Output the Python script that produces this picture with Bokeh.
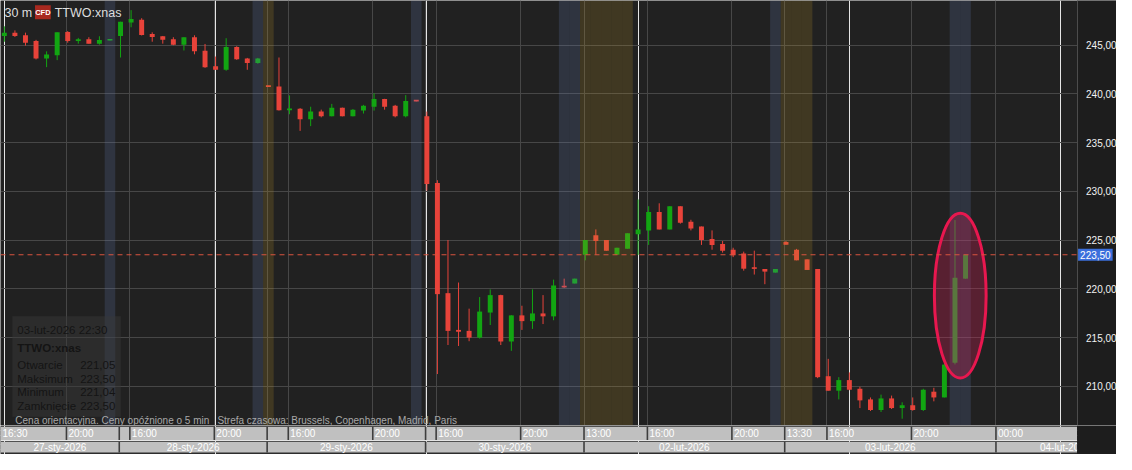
import numpy as np
from bokeh.plotting import figure
from bokeh.layouts import column
from bokeh.models import (Range1d, FixedTicker, Grid, CustomJSTickFormatter, LinearAxis,
                          Label, BoxAnnotation)
from bokeh.core.properties import value
from bokeh.embed import file_html
from bokeh.resources import INLINE

# ---------------- data ----------------
symbol = "TTWO:xnas"
interval = "30 m"
last_time = "03-lut-2026 22:30"

opens = [245.95, 246.29, 246.02, 245.43, 243.64, 243.97, 246.35, 245.43, 245.62, 245.16,
         245.48, 245.95, 247.34, 247.61, 246.15, 245.92, 245.62, 245.06, 245.82, 244.44,
         242.85, 242.48, 244.83, 243.64, 243.18, 240.76, 240.77, 238.32, 238.49, 237.40,
         238.19, 237.70, 238.59, 237.70, 238.29, 238.69, 239.48, 238.79, 237.70, 239.27,
         237.70, 230.86, 219.56, 215.79, 215.69, 215.00, 217.57, 219.36, 214.60, 217.28,
         216.69, 217.48, 217.18, 220.20, 220.55, 223.49, 225.51, 225.01, 223.49, 224.12,
         225.60, 226.00, 227.88, 226.10, 228.48, 226.89, 226.40, 225.11, 224.61, 224.02,
         223.62, 222.10, 222.04, 221.67, 224.81, 224.02, 223.03, 222.04, 211.04, 209.55,
         210.64, 209.75, 208.66, 207.57, 208.76, 207.77, 208.06, 207.57, 209.45, 208.86,
         212.42, 221.05]
highs = [246.94, 246.52, 246.29, 245.55, 244.37, 246.32, 246.45, 245.75, 245.82, 245.92,
         245.52, 247.41, 248.60, 247.77, 246.32, 245.95, 245.82, 245.82, 246.02, 245.13,
         243.84, 245.72, 244.90, 243.70, 243.70, 240.76, 243.74, 239.85, 238.55, 238.69,
         238.39, 238.98, 238.60, 238.45, 238.88, 240.07, 239.50, 238.88, 239.88, 239.27,
         238.19, 231.15, 225.01, 220.65, 217.97, 219.16, 219.95, 219.40, 217.30, 218.27,
         219.95, 219.36, 220.95, 221.05, 221.05, 225.01, 226.10, 225.01, 224.22, 225.70,
         229.17, 228.48, 228.78, 228.48, 228.48, 227.09, 226.40, 226.00, 224.91, 224.22,
         223.82, 223.92, 222.04, 222.04, 224.91, 224.10, 223.03, 222.04, 212.82, 210.94,
         211.43, 209.95, 208.86, 209.15, 209.05, 208.36, 208.86, 209.75, 209.85, 212.42,
         227.06, 223.50]
lows = [245.36, 245.85, 244.96, 243.54, 242.75, 243.47, 245.26, 245.16, 245.16, 245.06,
        245.48, 243.74, 246.84, 246.00, 245.36, 245.16, 245.00, 244.46, 244.07, 242.68,
        242.48, 242.38, 243.50, 242.48, 243.10, 240.72, 238.30, 237.92, 236.21, 236.70,
        237.60, 237.70, 237.70, 237.70, 237.99, 238.29, 238.39, 237.60, 237.60, 239.23,
        230.09, 211.26, 214.24, 214.14, 214.63, 214.90, 216.29, 214.24, 213.64, 215.79,
        215.89, 216.39, 216.78, 220.10, 220.55, 222.93, 223.49, 223.92, 223.49, 224.12,
        223.49, 224.51, 226.10, 226.10, 226.69, 226.00, 224.51, 224.02, 223.72, 223.26,
        221.87, 221.47, 220.48, 221.67, 224.54, 222.93, 221.94, 210.84, 209.55, 208.66,
        209.60, 207.77, 207.47, 207.37, 207.67, 206.68, 207.50, 207.47, 208.46, 208.86,
        212.25, 221.04]
closes = [246.29, 245.95, 245.26, 243.64, 244.04, 246.32, 245.43, 245.62, 245.16, 245.53,
          245.52, 247.41, 247.68, 246.05, 245.85, 245.55, 245.06, 245.82, 244.37, 242.75,
          242.48, 244.83, 243.57, 243.18, 243.64, 240.72, 238.32, 238.52, 237.40, 238.19,
          237.70, 238.59, 237.70, 238.39, 238.79, 239.48, 238.69, 237.70, 239.28, 239.23,
          230.76, 219.46, 215.69, 215.60, 215.00, 217.67, 219.36, 214.60, 217.28, 216.69,
          217.48, 217.18, 220.35, 220.15, 221.05, 225.01, 224.91, 223.92, 224.22, 225.70,
          226.10, 227.88, 226.10, 228.48, 226.79, 226.20, 225.01, 224.51, 223.92, 223.45,
          222.07, 222.05, 221.77, 222.04, 224.54, 222.93, 221.94, 210.94, 209.55, 210.64,
          209.65, 208.56, 207.57, 208.76, 207.77, 208.06, 207.57, 209.65, 208.86, 212.23,
          221.14, 223.50]

price_ticks = [210, 215, 220, 225, 230, 235, 240, 245]
time_tick_idx = [-1, 6, 12, 20, 27, 35, 41, 49, 55, 61, 69, 74, 78, 86, 94]
time_tick_labels = ["16:30", "20:00", "16:00", "20:00", "16:00", "20:00", "16:00", "20:00",
                    "13:00", "16:00", "20:00", "13:30", "16:00", "20:00", "00:00"]
date_sep_idx = [11, 25, 40, 55, 74, 94]
date_labels = ["27-sty-2026", "28-sty-2026", "29-sty-2026", "30-sty-2026",
               "02-lut-2026", "03-lut-2026", "04-lut-2026"]
date_last_end = 107
vgrid_idx = [6, 12, 20, 25, 27, 35, 40, 41, 49, 55, 61, 69, 74, 78, 86, 94]
post_session_idx = [10, 24, 39, 53, 54, 73, 90, 91]
pre_session_idx = [25, 55, 56, 57, 58, 59, 74, 75, 76]
info_names = ["Otwarcie", "Maksimum", "Minimum", "Zamknięcie"]
note_1 = "Cena orientacyjna. Ceny opóźnione o 5 min"
note_2 = "Strefa czasowa: Brussels, Copenhagen, Madrid, Paris"

# ---------------- styles ----------------
FONT = "Liberation Sans"
BG = "#212121"
SCALE_BG = "#1d1d1d"
GRID = "#474747"
RED = "#e8433a"
GREEN = "#12a512"
TOTAL_W = 1116
MAIN_H = 425
AXIS_H = 29

# reference-pixel -> data helpers (for annotation placement)
X0_PX, DX_PX = 3.9, 10.714
Y0_PRICE, Y0_PX, DY_PX = 245.0, 46.3, 10.09


def px(x):
    return (x - X0_PX) / DX_PX


def py(y):
    return Y0_PRICE - (y - Y0_PX) / DY_PX


def fmt(v):
    return f"{v:.2f}".replace(".", ",")


o = np.array(opens)
h = np.array(highs)
l = np.array(lows)
c = np.array(closes)
n = len(o)
idx = np.arange(n)

x_start, x_end = px(0), px(1132)
plot_right = px(1092)
y_start, y_end = py(440), py(0)

p = figure(frame_width=TOTAL_W, frame_height=MAIN_H,
           x_range=Range1d(x_start, x_end), y_range=Range1d(y_start, y_end),
           x_axis_location=None, y_axis_location=None,
           toolbar_location=None, output_backend="svg", min_border=0,
           background_fill_color=BG, border_fill_color=SCALE_BG, outline_line_color=None)

p.add_layout(Grid(dimension=1, ticker=FixedTicker(ticks=price_ticks), grid_line_color=GRID))
p.add_layout(Grid(dimension=0, ticker=FixedTicker(ticks=[i - 0.12 for i in vgrid_idx]),
                  grid_line_color=GRID))

# price scale background (right of the plot area)
p.quad(left=[plot_right], right=[x_end], bottom=[y_start], top=[y_end],
       fill_color=SCALE_BG, line_color=None)

ax = LinearAxis(fixed_location=plot_right, ticker=FixedTicker(ticks=price_ticks),
                formatter=CustomJSTickFormatter(
                    code="return tick.toFixed(2).replace('.', ',');"))
ax.major_tick_line_color = None
ax.minor_tick_line_color = None
ax.axis_line_color = "#4c4c4c"
ax.major_label_text_color = "#f2f2f2"
ax.major_label_text_font = FONT
ax.major_label_text_font_size = "10px"
ax.major_label_standoff = 3
p.add_layout(ax, "right")

# candles
up = c >= o
colors = np.where(up, GREEN, RED)
body_bot = np.minimum(o, c)
body_top = np.maximum(np.maximum(o, c), body_bot + 0.17)
p.segment(idx, h, idx, l, line_color=colors, line_width=1)
p.vbar(x=idx, width=0.47, top=body_top, bottom=body_bot, fill_color=colors, line_color=None)

# session bands (translucent overlays)
pb = np.array(post_session_idx)
p.quad(left=pb - 0.5, right=pb + 0.5, bottom=y_start, top=y_end,
       fill_color="#6780bc", fill_alpha=0.2, line_color=None)
qb = np.array(pre_session_idx)
p.quad(left=qb - 0.5, right=qb + 0.5, bottom=y_start, top=y_end,
       fill_color="#c8a028", fill_alpha=0.19, line_color=None)

# highlight ellipse around last two candles
e_top = h[-2:].max() + 0.7
e_bot = l[-2:].min() - 1.4
p.ellipse(x=[idx[-2:].mean()], y=[(e_top + e_bot) / 2], width=[4.9], height=[e_top - e_bot],
          fill_color="#d81e55", fill_alpha=0.3, line_color="#e8174f", line_width=3)

# last price line + tag
p.segment(x0=[x_start], y0=[c[-1]], x1=[plot_right], y1=[c[-1]], line_color="#d9533f",
          line_dash="5 4", line_width=1)
p.add_layout(Label(x=plot_right, y=c[-1], text=fmt(c[-1]), x_offset=1, text_baseline="middle",
                   text_color="white", text_font=FONT, text_font_size="10px",
                   background_fill_color="#3b6fdc", padding=2))

# header
p.add_layout(Label(x=px(4), y=py(13), text=interval, text_baseline="middle",
                   text_color="#dedede", text_font=FONT, text_font_size="12.5px"))
p.add_layout(BoxAnnotation(left=px(35), right=px(51), top=py(5), bottom=py(19.3),
                           fill_color="#a8291f", fill_alpha=1, line_color=None))
p.add_layout(Label(x=px(43), y=py(12.3), text="CFD", text_align="center",
                   text_baseline="middle", text_color="white", text_font=FONT,
                   text_font_size="7.5px", text_font_style="bold"))
p.add_layout(Label(x=px(55), y=py(13), text=symbol, text_baseline="middle",
                   text_color="#dedede", text_font=FONT, text_font_size="12.5px"))

# info box
p.add_layout(BoxAnnotation(left=px(12), right=px(122), top=py(327), bottom=py(431),
                           fill_color="#383838", fill_alpha=0.5, line_color=None))
INFO_C = "#141414"
p.add_layout(Label(x=px(17), y=py(341), text=last_time, text_baseline="middle",
                   text_color=INFO_C, text_font=FONT, text_font_size="11.5px"))
p.add_layout(Label(x=px(17), y=py(360), text=symbol, text_baseline="middle",
                   text_color=INFO_C, text_font=FONT, text_font_size="11.5px",
                   text_font_style="bold"))
info_vals = [o[-1], h[-1], l[-1], c[-1]]
for k, (name, val) in enumerate(zip(info_names, info_vals)):
    yy = py(377.3 + k * 14.1)
    p.add_layout(Label(x=px(17), y=yy, text=name, text_baseline="middle",
                       text_color=INFO_C, text_font=FONT, text_font_size="11.5px"))
    p.add_layout(Label(x=px(116.5), y=yy, text=fmt(val), text_baseline="middle",
                       text_align="right", text_color=INFO_C, text_font=FONT,
                       text_font_size="11.5px"))

# notes
p.add_layout(Label(x=px(15), y=py(434.5), text=note_1, text_baseline="middle",
                   text_color="#a8a8a8", text_font=FONT, text_font_size="10px"))
p.add_layout(Label(x=px(220), y=py(434.5), text=note_2, text_baseline="middle",
                   text_color="#a8a8a8", text_font=FONT, text_font_size="10px"))

# ---------------- time axis strip ----------------
p2 = figure(frame_width=TOTAL_W, frame_height=AXIS_H, x_range=p.x_range,
            y_range=Range1d(0, 30), x_axis_location=None, y_axis_location=None,
            toolbar_location=None, output_backend="svg", min_border=0,
            background_fill_color="#2c2c2c", border_fill_color=SCALE_BG,
            outline_line_color=None)
p2.quad(left=[x_start], right=[plot_right], bottom=[15], top=[28.6], fill_color="#c0c0c0",
        line_color=None)
p2.quad(left=[x_start], right=[plot_right], bottom=[2], top=[13.2], fill_color="#c0c0c0",
        line_color=None)
row1_seps = sorted(set([i for i in time_tick_idx if i >= 0]) | set(date_sep_idx))
r1 = [i - 0.12 for i in row1_seps]
p2.segment(x0=r1, y0=15, x1=r1, y1=28.6, line_color="#3e3e3e", line_width=1.6)
r2 = [i - 0.12 for i in date_sep_idx]
p2.segment(x0=r2, y0=2, x1=r2, y1=13.2, line_color="#3e3e3e", line_width=1.6)
tx = [max(i - 0.12, x_start) for i in time_tick_idx]
p2.text(x=tx, y=21.8, text=time_tick_labels, x_offset=2, text_baseline="middle",
        text_align="left", text_color="white", text_font=value(FONT),
        text_font_size="10px")
bounds = [x_start] + r2 + [date_last_end]
centers = [(a + b) / 2 for a, b in zip(bounds[:-1], bounds[1:])]
p2.text(x=centers, y=7.6, text=date_labels, text_baseline="middle", text_align="center",
        text_color="white", text_font=value(FONT), text_font_size="10px")
# dark area under the price scale hides the clipped end of the last date label
p2.quad(left=[plot_right], right=[x_end], bottom=[0], top=[30], fill_color=SCALE_BG,
        line_color=None)

layout = column(p, p2, spacing=0)
open("out.html", "w").write(file_html(layout, INLINE))
